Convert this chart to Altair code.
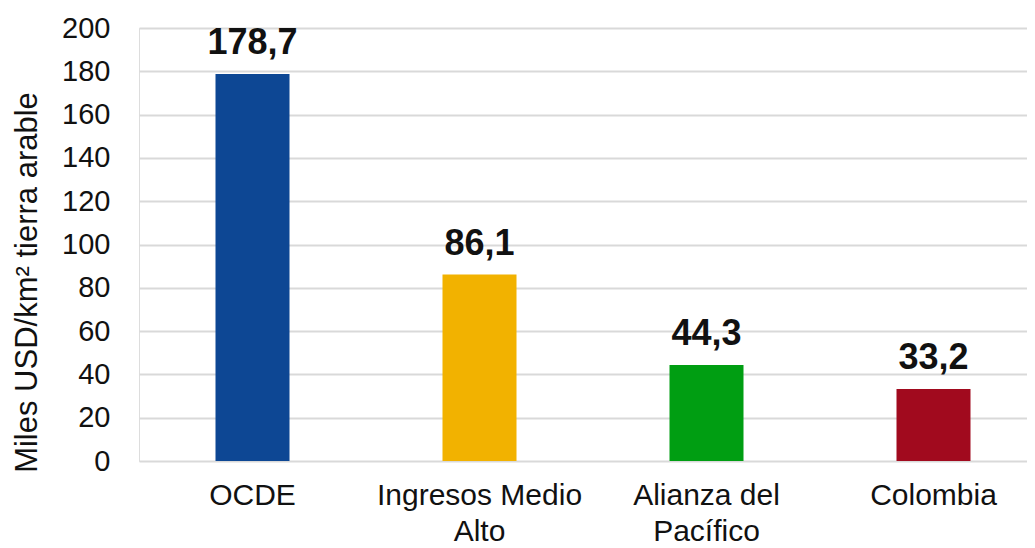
import altair as alt
import pandas as pd

categories = ["OCDE", "Ingresos Medio Alto", "Alianza del Pacífico", "Colombia"]
values = [178.7, 86.1, 44.3, 33.2]
colors = ["#0D4794", "#F2B200", "#009E12", "#A10A1E"]
label_lines = {
    "OCDE": ["OCDE"],
    "Ingresos Medio Alto": ["Ingresos Medio", "Alto"],
    "Alianza del Pacífico": ["Alianza del", "Pacífico"],
    "Colombia": ["Colombia"],
}
y_ticks = list(range(0, 201, 20))
y_title = "Miles USD/km² tierra arable"

df = pd.DataFrame({"cat": categories, "val": values})

expr_parts = []
for k, lines in label_lines.items():
    arr = "[" + ",".join("'" + l + "'" for l in lines) + "]"
    expr_parts.append(f"datum.value == '{k}' ? {arr}")
label_expr = " : ".join(expr_parts) + " : datum.label"

FONT = "Liberation Sans"

x = alt.X(
    "cat:N",
    sort=categories,
    title=None,
    scale=alt.Scale(range=[0, 908], paddingInner=0.674, paddingOuter=0.337),
    axis=alt.Axis(
        labelExpr=label_expr,
        labelAngle=0,
        labelFontSize=30,
        labelLineHeight=36,
        labelPadding=19,
        labelLimit=0,
        labelColor="#111111",
        labelFont=FONT,
        domain=False,
        ticks=False,
        grid=False,
    ),
)

y = alt.Y(
    "val:Q",
    scale=alt.Scale(domain=[0, 200], nice=False),
    axis=alt.Axis(
        values=y_ticks,
        title=y_title,
        titleFontSize=31,
        titleFont=FONT,
        titleFontWeight="normal",
        titleColor="#111111",
        titleAngle=270,
        titleAlign="center",
        titleBaseline="middle",
        titleX=-112,
        titleY=254,
        titleLimit=0,
        labelFontSize=29,
        labelFont=FONT,
        labelColor="#111111",
        labelPadding=29,
        domain=False,
        ticks=False,
        gridColor="#D9D9D9",
        gridWidth=2,
    ),
)

base = alt.Chart(df)

bars = base.mark_bar().encode(
    x=x,
    y=y,
    color=alt.Color("cat:N", scale=alt.Scale(domain=categories, range=colors), legend=None),
)

text = base.transform_calculate(
    lbl="replace(format(datum.val, '.1f'), '.', ',')"
).mark_text(
    dy=-20, baseline="alphabetic", fontSize=36, fontWeight="bold", font=FONT, color="#111111"
).encode(x=alt.X("cat:N", sort=categories), y="val:Q", text="lbl:N")

chart = (
    alt.layer(bars, text)
    .properties(
        width=888,
        height=433,
        autosize=alt.AutoSizeParams(type="none"),
        padding={"left": 131, "top": 20, "right": 0, "bottom": 86},
    )
    .configure_view(stroke=None)
    .configure(background="white")
)

chart.save("out.html", embed_options={"renderer": "svg", "actions": False})
